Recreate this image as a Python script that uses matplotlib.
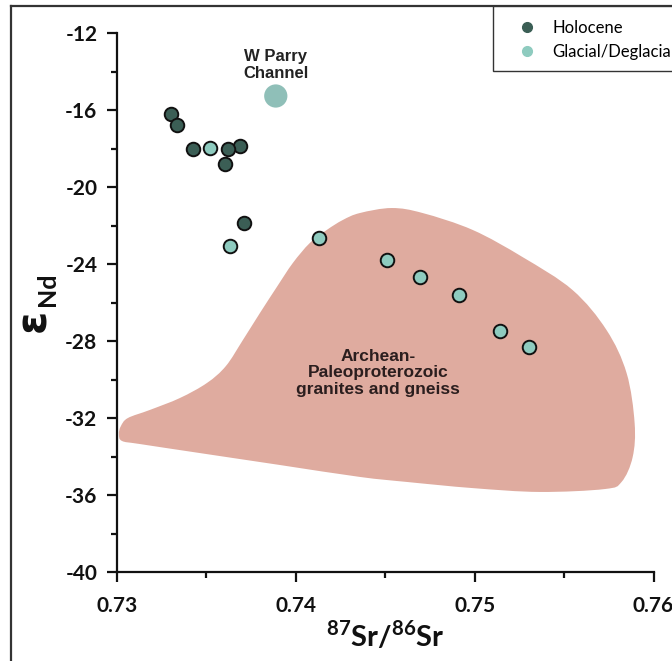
import numpy as np
import matplotlib
matplotlib.use("Agg")
import matplotlib.pyplot as plt
from matplotlib.path import Path
from matplotlib.patches import PathPatch, Rectangle
from matplotlib.lines import Line2D

# Holocene samples
holo_sr = [0.73300, 0.73335, 0.73426, 0.73687, 0.73622, 0.73605, 0.73713]
holo_nd = [-16.22, -16.78, -18.03, -17.85, -18.04, -18.81, -21.89]

# Glacial/Deglacial samples
glac_sr = [0.73523, 0.73630, 0.74128, 0.74507, 0.74695, 0.74914, 0.75140, 0.75303]
glac_nd = [-17.96, -23.05, -22.63, -23.81, -24.69, -25.59, -27.48, -28.30]

# W Parry Channel end member
parry_sr = [0.73888]
parry_nd = [-15.27]

# outline of the Archean-Paleoproterozoic field
field_sr = [0.73011, 0.73022, 0.73061, 0.73184, 0.73352, 0.73503, 0.73609,
            0.73704, 0.73799, 0.73894, 0.73983, 0.74078, 0.74173, 0.74263,
            0.74358, 0.74536, 0.74709, 0.74989, 0.75268, 0.75547, 0.75737,
            0.75849, 0.75894, 0.75883, 0.75821, 0.75726, 0.75363, 0.74989,
            0.74620, 0.74358, 0.73911, 0.73464, 0.73128, 0.73028]
field_nd = [-32.83, -32.42, -32.00, -31.58, -30.96, -30.18, -29.30,
            -27.95, -26.55, -25.19, -23.95, -22.91, -22.23, -21.71,
            -21.35, -21.09, -21.35, -22.23, -23.64, -25.35, -27.43,
            -29.66, -32.26, -34.03, -35.32, -35.69, -35.84, -35.64,
            -35.32, -35.06, -34.44, -33.82, -33.35, -33.19]

xticks = [0.73, 0.74, 0.75, 0.76]
yticks = [-12, -16, -20, -24, -28, -32, -36, -40]

plt.rcParams["mathtext.fontset"] = "custom"
plt.rcParams["mathtext.rm"] = "Lato:bold"
plt.rcParams["mathtext.bf"] = "Lato:bold"


def smooth_outline(xs, ys):
    """Closed Catmull-Rom outline turned into cubic bezier path."""
    pts = np.column_stack([xs, ys])
    n = len(pts)
    verts = [pts[0]]
    codes = [Path.MOVETO]
    for i in range(n):
        p0, p1 = pts[i - 1], pts[i]
        p2, p3 = pts[(i + 1) % n], pts[(i + 2) % n]
        verts += [p1 + (p2 - p0) / 6, p2 - (p3 - p1) / 6, p2]
        codes += [Path.CURVE4] * 3
    return Path(verts, codes)


def main():
    fig = plt.figure(figsize=(6.72, 6.61), dpi=100)
    ax = fig.add_axes([0.174, 0.1346, 0.7986, 0.8154])

    dark = "#3b5e55"
    light = "#8ecbbf"

    # field
    ax.add_patch(PathPatch(smooth_outline(field_sr, field_nd),
                           facecolor="#dfab9f", edgecolor="none", zorder=1))
    ax.text(0.7446, -29.66, "Archean-\nPaleoproterozoic\ngranites and gneiss",
            ha="center", va="center", fontsize=12.5, fontweight="bold",
            family="Liberation Sans", color="#2b1e1e", linespacing=1.15,
            zorder=2)

    # end member
    ax.scatter(parry_sr, parry_nd, s=280, color="#8fbfb8", edgecolor="none",
               zorder=3, clip_on=False)
    ax.text(0.73888, -13.66, "W Parry\nChannel", ha="center", va="center",
            fontsize=12, fontweight="bold", family="Liberation Sans",
            color="#222222", linespacing=1.2)

    # samples
    ax.scatter(glac_sr, glac_nd, s=95, color=light, edgecolor="#111111",
               linewidth=1.4, zorder=4)
    ax.scatter(holo_sr, holo_nd, s=95, color=dark, edgecolor="#111111",
               linewidth=1.4, zorder=5)

    ax.set_xlim(0.73, 0.76)
    ax.set_ylim(-40, -12)

    # axes
    for side in ["top", "right"]:
        ax.spines[side].set_visible(False)
    for side in ["left", "bottom"]:
        ax.spines[side].set_linewidth(1.6)
        ax.spines[side].set_color("#111111")

    ax.set_xticks(xticks)
    ax.set_xticklabels([f"{t:.2f}" for t in xticks])
    ax.set_xticks([0.735, 0.745, 0.755], minor=True)
    ax.set_yticks(yticks)
    ax.set_yticklabels([str(t) for t in yticks])
    ax.set_yticks(np.arange(-38, -12, 4), minor=True)
    ax.tick_params(which="major", length=7, width=1.6, color="#111111")
    ax.tick_params(which="minor", length=4, width=1.6, color="#111111")
    ax.tick_params(axis="y", which="major", pad=7)
    ax.tick_params(axis="x", which="major", pad=10)
    for lab in ax.get_xticklabels() + ax.get_yticklabels():
        lab.set_family("Lato")
        lab.set_fontweight("bold")
        lab.set_fontsize(15)
        lab.set_color("#111111")

    # axis titles
    ax.text(0.5, -0.117, r"$^{87}$Sr/$^{86}$Sr", transform=ax.transAxes,
            ha="center", va="center", fontsize=21, fontweight="bold",
            family="Lato", color="#111111")
    ax.text(-0.1565, 0.4675, "ε", transform=ax.transAxes, rotation=90,
            ha="center", va="center", fontsize=30, fontweight="bold",
            family="DejaVu Sans", color="#111111")
    ax.text(-0.130, 0.525, "Nd", transform=ax.transAxes,
            rotation=90, ha="center", va="center", fontsize=18,
            fontweight="bold", family="Lato", color="#111111")

    # outer frame (cut by image edge)
    fig.add_artist(Line2D([11 / 672, 1.0], [1 - 6 / 661, 1 - 6 / 661],
                          transform=fig.transFigure, color="#333333", lw=1.6))
    fig.add_artist(Line2D([11 / 672, 11 / 672], [0.0, 1 - 6 / 661],
                          transform=fig.transFigure, color="#333333", lw=1.6))

    # legend box
    fig.add_artist(Rectangle((493 / 672, 1 - 71 / 661), 0.3, 65 / 661,
                             transform=fig.transFigure, facecolor="white",
                             edgecolor="#333333", lw=1.0, zorder=10))
    handles = [Line2D([], [], marker="o", ls="none", color=dark, ms=7),
               Line2D([], [], marker="o", ls="none", color=light, ms=7)]
    leg = fig.legend(handles, ["Holocene", "Glacial/Deglacial"],
                     loc="upper left", bbox_to_anchor=(517 / 672, 1 - 20 / 661),
                     frameon=False, prop={"family": "Lato", "size": 12},
                     handletextpad=0.9, labelspacing=0.45, borderaxespad=0,
                     borderpad=0, handlelength=1.2)
    leg.set_zorder(11)

    fig.savefig("out.png", dpi=100)


if __name__ == "__main__":
    main()
